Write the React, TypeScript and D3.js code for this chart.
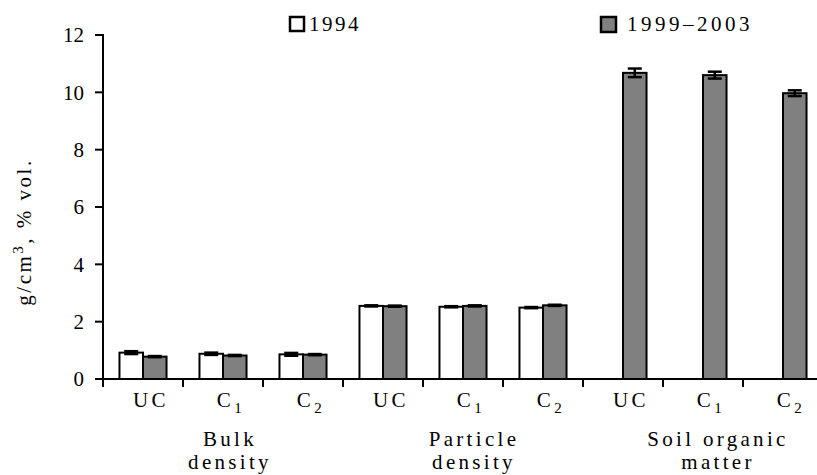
import React from "react";
import * as d3 from "d3";

// Soil properties by treatment, two sampling periods
const categories = ["UC", "C1", "C2", "UC", "C1", "C2", "UC", "C1", "C2"];
const groupLabels = [["Bulk", "density"], ["Particle", "density"], ["Soil organic", "matter"]];
const seriesNames = ["1994", "1999–2003"];
const values1994: (number | null)[] = [0.92, 0.88, 0.86, 2.55, 2.52, 2.49, null, null, null];
const errors1994: number[] = [0.05, 0.04, 0.05, 0.02, 0.02, 0.02, 0, 0, 0];
const values9903: number[] = [0.78, 0.82, 0.85, 2.54, 2.55, 2.57, 10.68, 10.6, 9.97];
const errors9903: number[] = [0.02, 0.02, 0.02, 0.02, 0.02, 0.02, 0.15, 0.12, 0.1];
const yTicks = [0, 2, 4, 6, 8, 10, 12];

const W = 817;
const H = 475;
const FONT = "'Liberation Serif', 'Times New Roman', serif";
const GRAY = "#808080";

export default function App() {
  const left = 103;
  const y0 = 379;
  const y12 = 35;
  const idx = categories.map((_, i) => String(i));
  const x = d3.scaleBand<string>().domain(idx).range([left, left + 80 * 9]).padding(0);
  const xs = d3
    .scaleBand<string>()
    .domain(seriesNames)
    .range([0, x.bandwidth()])
    .paddingInner(0)
    .paddingOuter(0.7);
  const y = d3.scaleLinear().domain([0, 12]).range([y0, y12]);

  const series = [
    { name: seriesNames[0], vals: values1994, errs: errors1994, fill: "#ffffff" },
    { name: seriesNames[1], vals: values9903, errs: errors9903, fill: GRAY },
  ];

  const capW = 14;

  return (
    <svg
      width={W}
      height={H}
      style={{ position: "absolute", left: 0, top: 0, background: "#fff" }}
      fontFamily={FONT}
    >
      {/* bars */}
      {series.map((s) =>
        s.vals.map((v, i) => {
          if (v == null) return null;
          const bx = (x(String(i)) as number) + (xs(s.name) as number);
          const bw = xs.bandwidth();
          return (
            <rect
              key={s.name + i}
              x={bx}
              y={y(v)}
              width={bw}
              height={y(0) - y(v)}
              fill={s.fill}
              stroke="#000"
              strokeWidth={2}
            />
          );
        })
      )}
      {/* error bars */}
      {series.map((s) =>
        s.vals.map((v, i) => {
          if (v == null) return null;
          const e = s.errs[i];
          const cx = (x(String(i)) as number) + (xs(s.name) as number) + xs.bandwidth() / 2;
          return (
            <g key={"e" + s.name + i} stroke="#000" strokeWidth={2.5}>
              <line x1={cx} x2={cx} y1={y(v + e)} y2={y(v - e)} />
              <line x1={cx - capW / 2} x2={cx + capW / 2} y1={y(v + e)} y2={y(v + e)} />
              <line x1={cx - capW / 2} x2={cx + capW / 2} y1={y(v - e)} y2={y(v - e)} />
            </g>
          );
        })
      )}
      {/* y axis */}
      <line x1={left} x2={left} y1={y(12) - 1} y2={y(0)} stroke="#000" strokeWidth={2} />
      {yTicks.map((t) => (
        <g key={t}>
          <line x1={left - 8} x2={left} y1={y(t)} y2={y(t)} stroke="#000" strokeWidth={2} />
          <text x={left - 19} y={y(t)} dy="0.35em" textAnchor="end" fontSize={21} fill="#000">
            {t}
          </text>
        </g>
      ))}
      {/* x axis */}
      <line x1={left} x2={left + 80 * 9} y1={y(0)} y2={y(0)} stroke="#000" strokeWidth={2} />
      {d3.range(10).map((k) => (
        <line
          key={k}
          x1={left + x.step() * k}
          x2={left + x.step() * k}
          y1={y(0)}
          y2={y(0) + 8}
          stroke="#000"
          strokeWidth={2}
        />
      ))}
      {categories.map((c, i) => {
        const cx = (x(String(i)) as number) + x.bandwidth() / 2 + 8;
        const base = c.charAt(0);
        const sub = c.length > 1 && c !== "UC" ? c.slice(1) : null;
        return (
          <text key={"c" + i} x={cx} y={407} textAnchor="middle" fontSize={21} letterSpacing={3.5} fill="#000">
            {sub ? (
              <>
                <tspan>{base}</tspan>
                <tspan dy={6} fontSize={15}>{sub}</tspan>
              </>
            ) : (
              c
            )}
          </text>
        );
      })}
      {groupLabels.map((lines, g) => {
        const cx = (x(String(g * 3 + 1)) as number) + x.bandwidth() / 2 + 7 + g * 4;
        return (
          <text key={"g" + g} x={cx} textAnchor="middle" fontSize={21} letterSpacing={3.3} fill="#000">
            <tspan x={cx} y={446}>{lines[0]}</tspan>
            <tspan x={cx} y={469}>{lines[1]}</tspan>
          </text>
        );
      })}
      {/* y label */}
      <text
        transform={`translate(31, 232) rotate(-90)`}
        textAnchor="middle"
        fontSize={21}
        letterSpacing={2.5}
        fill="#000"
      >
        g/cm<tspan dy={-8} fontSize={15}>3</tspan>
        <tspan dy={8}>, % vol.</tspan>
      </text>
      {/* legend */}
      <g>
        <rect x={290} y={17} width={14} height={14} fill="#fff" stroke="#000" strokeWidth={2.5} />
        <text x={309} y={31} fontSize={21} letterSpacing={2.5} fill="#000">
          {seriesNames[0]}
        </text>
        <rect x={601} y={17} width={15} height={15} fill={GRAY} stroke="#000" strokeWidth={2.5} />
        <text x={627} y={31} fontSize={21} letterSpacing={3.5} fill="#000">
          {seriesNames[1]}
        </text>
      </g>
    </svg>
  );
}
